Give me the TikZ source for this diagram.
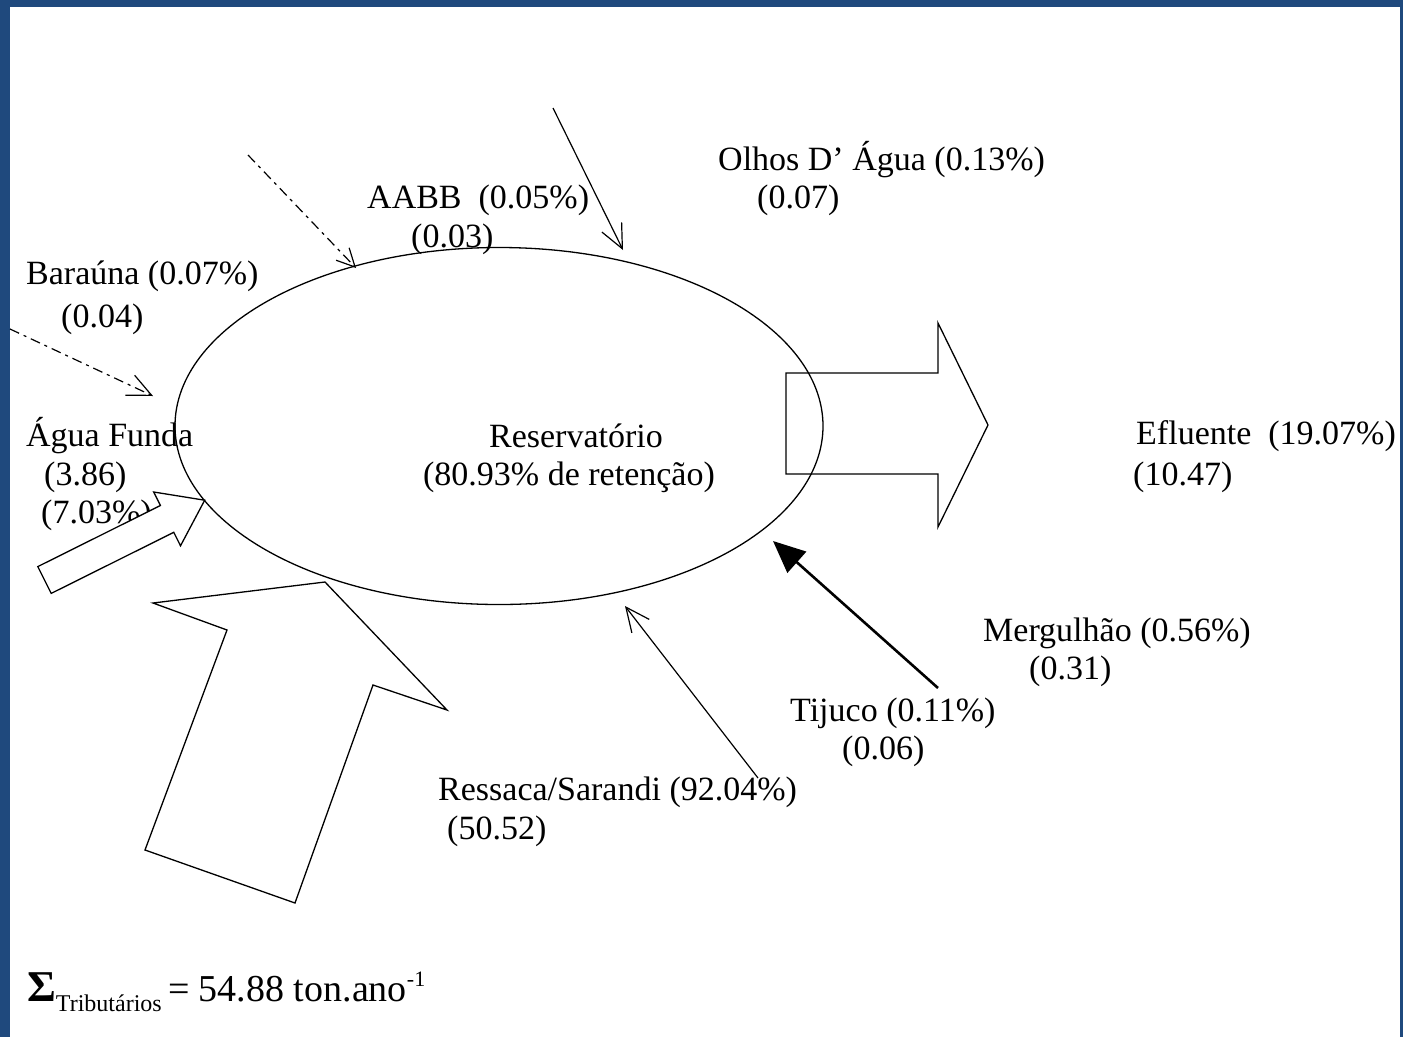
\documentclass[tikz,border=0pt]{standalone}
\usepackage{fontspec}
\setmainfont{Liberation Serif}
\usetikzlibrary{shapes.geometric,arrows.meta}
\definecolor{bordercol}{RGB}{31,73,125}
\tikzset{
  lbl/.style={anchor=west,inner sep=0pt,font=\fontsize{34}{40}\selectfont},
  clbl/.style={anchor=center,inner sep=0pt,font=\fontsize{34}{40}\selectfont},
  thinline/.style={line width=1.2pt},
  openhead/.style={-{Straight Barb[length=24pt,width=22pt]}},
  smallhead/.style={-{Straight Barb[length=18pt,width=18pt]}},
  dashdot/.style={dash pattern=on 10pt off 5pt on 3pt off 5pt},
  blockarrow/.style={draw,line width=1.3pt,line join=miter}
}
\begin{document}
\begin{tikzpicture}[x=1pt,y=-1pt]
\useasboundingbox (0,0) rectangle (1403,1037);
\fill[white] (0,0) rectangle (1403,1037);
\fill[bordercol] (0,0) rectangle (1403,7);
\fill[bordercol] (0,0) rectangle (10,1037);
\fill[bordercol] (1400,0) rectangle (1403,1037);

% labels
\node[lbl] (olhosA) at (718,160) {Olhos D’ Água (0.13\%)};
\node[lbl] (olhosB) at (757,200) {(0.07)};
\node[lbl] (aabbA) at (367,200) {AABB\ \ (0.05\%)};
\node[lbl] (aabbB) at (411,239) {(0.03)};
\node[lbl] (barA) at (26,276) {Baraúna (0.07\%)};
\node[lbl] (barB) at (61,319) {(0.04)};
\node[lbl] (aguaA) at (26,436) {Água Funda};
\node[lbl] (aguaB) at (44,477) {(3.86)};
\node[lbl] (aguaC) at (41,515) {(7.03\%)};
\node[clbl] (resA) at (576,436) {Reservatório};
\node[clbl] (resB) at (569,477) {(80.93\% de retenção)};
\node[lbl] (eflA) at (1136,436) {Efluente\ \ (19.07\%)};
\node[lbl] (eflB) at (1133,477) {(10.47)};
\node[lbl] (merA) at (983,633) {Mergulhão (0.56\%)};
\node[lbl] (merB) at (1029,671) {(0.31)};
\node[lbl] (tijA) at (790,713) {Tijuco (0.11\%)};
\node[lbl] (tijB) at (842,751) {(0.06)};
\node[lbl] (ressA) at (438,792) {Ressaca/Sarandi (92.04\%)};
\node[lbl] (ressB) at (447,831) {(50.52)};
\node[lbl] (sigma) at (27,992) {{\fontsize{44}{44}\selectfont\bfseries Σ}{\fontsize{24}{24}\selectfont\raisebox{-10pt}{Tributários}}{\fontsize{38}{40}\selectfont\,= 54.88 ton.ano}{\fontsize{22}{22}\selectfont\raisebox{15pt}{-1}}};

% reservoir
\node[draw,ellipse,line width=1.3pt,minimum width=648pt,minimum height=357pt,inner sep=0pt] (res) at (499,426) {};

% free ends of connectors
\coordinate (aabbS) at (248,155);
\coordinate (aabbE) at (356,268);
\coordinate (olhosS) at (553,108);
\coordinate (olhosE) at (623,250);
\coordinate (barS) at (10,329);
\coordinate (barE) at (153,396);
\coordinate (ressS) at (758,778);
\coordinate (ressE) at (625,606);
\coordinate (tijS) at (938,688);
\coordinate (tijE) at (773,541);

% thin arrows
\draw[thinline,dashdot,smallhead] (aabbS) -- (aabbE);
\draw[thinline,openhead] (olhosS) -- (olhosE);
\draw[thinline,dashdot,openhead] (barS) -- (barE);
\draw[thinline,openhead] (ressS) -- (ressE);
\draw[line width=2.6pt,-{Triangle[length=32pt,width=28pt]}] (tijS) -- (tijE);

% block arrows
\draw[blockarrow] (786,373) -- (938,373) -- (938,323) -- (988,425) -- (938,527) -- (938,474) -- (786,474) -- cycle;
\draw[blockarrow,fill=white] (37.8,566.6) -- (160.4,505.5) -- (153.7,492) -- (204.7,500.2) -- (180.5,545.8) -- (173.8,532.3) -- (51.2,593.4) -- cycle;
\draw[blockarrow] (153,603) -- (325,582) -- (447,710) -- (373,685) -- (295,903) -- (145,850) -- (227,630) -- cycle;
\end{tikzpicture}
\end{document}
